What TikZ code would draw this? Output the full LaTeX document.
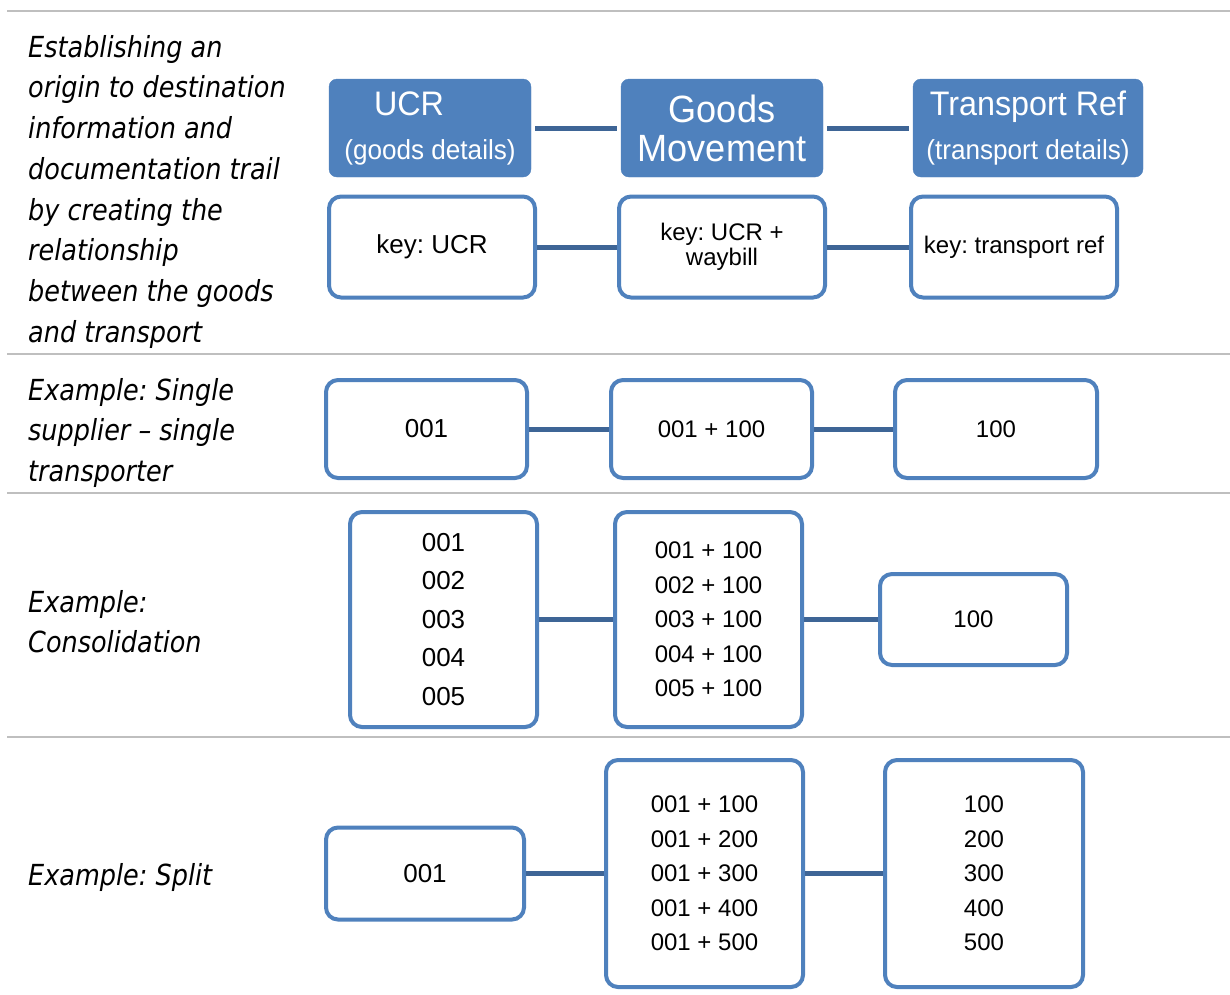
\documentclass[tikz,border=0pt]{standalone}
\usepackage{fontspec}
\newfontfamily\boxfont{Liberation Sans}
\newfontfamily\headfont[FakeStretch=0.95]{Liberation Sans}
\newfontfamily\notefont[FakeStretch=0.88]{DejaVu Sans}
\frenchspacing
\definecolor{smartblue}{HTML}{4F81BD}
\definecolor{linkblue}{HTML}{3E6596}
\definecolor{rulegray}{HTML}{BFBFBF}
\tikzset{
  headbox/.style={fill=smartblue, draw=smartblue, rounded corners=8pt, text=white,
    align=center, inner sep=0pt},
  keybox/.style={draw=smartblue, line width=4pt, rounded corners=12pt, fill=white,
    align=center, inner sep=0pt, font=\boxfont\fontsize{24}{34.5}\selectfont},
  bigtext/.style={font=\boxfont\fontsize{26}{38.5}\selectfont},
  link/.style={draw=linkblue, line width=5pt},
  note/.style={anchor=north west, inner sep=0pt, align=left,
    font=\notefont\itshape\fontsize{29}{40.7}\selectfont},
  rowrule/.style={draw=rulegray, line width=2pt}
}
\begin{document}
\begin{tikzpicture}[x=1pt, y=-1pt]
  \useasboundingbox (0,0) rectangle (1230,994);

  % Row separators
  \foreach \y in {11,354,493,737}
    \draw[rowrule] (7,\y) -- (1230,\y);

  % Row descriptions
  \node[note] (descA) at (28,35) {Establishing an\\origin to destination\\information and\\documentation trail\\by creating the\\relationship\\between the goods\\and transport};
  \node[note] (descB) at (28,378) {Example: Single\\supplier – single\\transporter};
  \node[note] (descC) at (28,590) {Example:\\Consolidation};
  \node[note] (descD) at (28,863) {Example: Split};

  % Header boxes
  \node[headbox, minimum width=202pt, minimum height=98pt, font=\headfont\fontsize{34}{44}\selectfont]
    (ucr) at (430,128) {UCR\hspace*{42pt}\\{\fontsize{27.5}{44}\selectfont (goods details)}};
  \node[headbox, minimum width=202pt, minimum height=98pt, font=\headfont\fontsize{38}{39}\selectfont]
    (goods) at (722,128) {Goods\\Movement};
  \node[headbox, minimum width=230pt, minimum height=98pt, font=\headfont\fontsize{34}{44}\selectfont]
    (tref) at (1028,128) {Transport Ref\\{\fontsize{27.5}{44}\selectfont (transport details)}};
  \draw[link, shorten <=4pt, shorten >=4pt] (ucr) -- (goods);
  \draw[link, shorten <=4pt, shorten >=4pt] (goods) -- (tref);

  % Keys
  \node[keybox, bigtext, minimum width=206pt, minimum height=101pt] (keyucr) at (432,247) {key: UCR};
  \node[keybox, minimum width=206pt, minimum height=101pt, font=\boxfont\fontsize{24}{25}\selectfont]
    (keygm) at (722,247) {key: UCR +\\waybill};
  \node[keybox, minimum width=206pt, minimum height=101pt] (keytr) at (1014,247) {key: transport ref};
  \draw[link] (keyucr) -- (keygm);
  \draw[link] (keygm) -- (keytr);

  % Single supplier - single transporter
  \node[keybox, bigtext, minimum width=201pt, minimum height=98pt] (singleucr) at (426.5,429) {001};
  \node[keybox, minimum width=201pt, minimum height=98pt] (singlegm) at (711.5,429) {001 + 100};
  \node[keybox, minimum width=202pt, minimum height=98pt] (singletr) at (996,429) {100};
  \draw[link] (singleucr) -- (singlegm);
  \draw[link] (singlegm) -- (singletr);

  % Consolidation
  \node[keybox, bigtext, minimum width=187pt, minimum height=215pt]
    (consucr) at (443.5,619.5) {001\\002\\003\\004\\005};
  \node[keybox, minimum width=187pt, minimum height=215pt]
    (consgm) at (708.5,619.5) {001 + 100\\002 + 100\\003 + 100\\004 + 100\\005 + 100};
  \node[keybox, minimum width=187pt, minimum height=91pt] (constr) at (973.5,619.5) {100};
  \draw[link] (consucr) -- (consgm);
  \draw[link] (consgm) -- (constr);

  % Split
  \node[keybox, bigtext, minimum width=198pt, minimum height=92pt] (splitucr) at (425,873.5) {001};
  \node[keybox, minimum width=197pt, minimum height=227pt]
    (splitgm) at (704.5,873.5) {001 + 100\\001 + 200\\001 + 300\\001 + 400\\001 + 500};
  \node[keybox, minimum width=198pt, minimum height=227pt]
    (splittr) at (984,873.5) {100\\200\\300\\400\\500};
  \draw[link] (splitucr) -- (splitgm);
  \draw[link] (splitgm) -- (splittr);

\end{tikzpicture}
\end{document}
